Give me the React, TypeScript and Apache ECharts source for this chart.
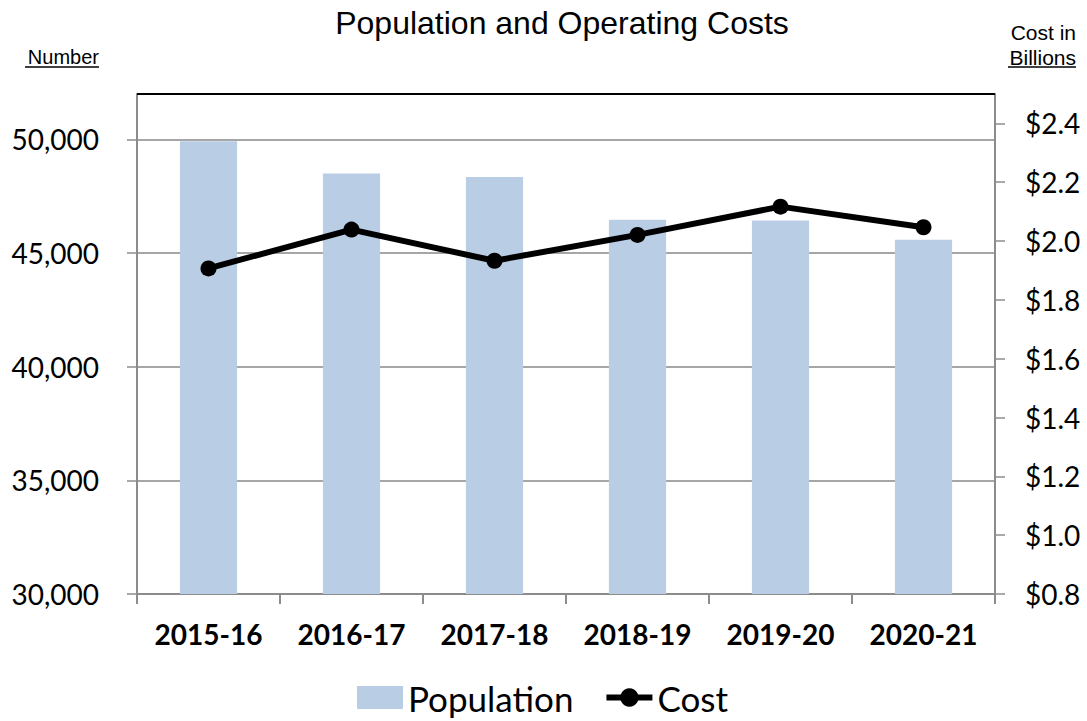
import React, { useEffect, useRef } from "react";
import * as echarts from "echarts";

const categories = ["2015-16", "2016-17", "2017-18", "2018-19", "2019-20", "2020-21"];
const population = [49925, 48500, 48350, 46470, 46430, 45590];
const cost = [1.907, 2.039, 1.933, 2.021, 2.117, 2.047];

const LABEL_FONT = "Lato, 'Open Sans', sans-serif";
const TITLE_FONT = "'Liberation Sans', Arial, sans-serif";

export default function App() {
  const ref = useRef<HTMLDivElement>(null);
  useEffect(() => {
    if (!ref.current) return;
    const chart = echarts.init(ref.current, undefined, { renderer: "svg" });
    chart.setOption({
      animation: false,
      backgroundColor: "#ffffff",
      title: {
        text: "Population and Operating Costs",
        left: 557,
        textAlign: "center",
        top: 2,
        textStyle: { fontFamily: TITLE_FONT, fontSize: 32, fontWeight: "normal", color: "#000" },
      },
      grid: { left: 137, right: 92, top: 94, bottom: 127, show: false },
      legend: {
        left: 357,
        top: 680,
        padding: 0,
        itemWidth: 46,
        itemHeight: 23,
        itemGap: 30,
        textStyle: { fontFamily: LABEL_FONT, fontSize: 35, lineHeight: 35, color: "#000" },
        data: [
          { name: "Population", icon: "rect" },
          { name: "Cost", lineStyle: { width: 6, color: "#000" } },
        ],
      },
      xAxis: {
        type: "category",
        data: categories,
        boundaryGap: true,
        axisLine: { lineStyle: { color: "#8c8c8c", width: 2 } },
        axisTick: { show: true, inside: false, length: 10, lineStyle: { color: "#8c8c8c", width: 2 } },
        axisLabel: {
          margin: 26,
          fontFamily: LABEL_FONT,
          fontSize: 28,
          fontWeight: "bold",
          color: "#000",
        },
      },
      yAxis: [
        {
          type: "value",
          min: 30000,
          max: 52000,
          interval: 5000,
          position: "left",
          axisLine: { show: true, lineStyle: { color: "#8c8c8c", width: 2 } },
          axisTick: { show: true, inside: false, length: 10, lineStyle: { color: "#8c8c8c", width: 1.5 } },
          splitLine: { show: true, lineStyle: { color: "#a6a6a6", width: 2 } },
          axisLabel: {
            margin: 38,
            fontFamily: LABEL_FONT,
            fontSize: 28,
            color: "#000",
            showMaxLabel: false,
            formatter: (v: number) => (v === 52000 ? "" : v.toLocaleString("en-US")),
          },
        },
        {
          type: "value",
          min: 0.8,
          max: 2.5,
          interval: 0.2,
          position: "right",
          axisLine: { show: true, lineStyle: { color: "#8c8c8c", width: 2 } },
          axisTick: { show: true, inside: false, length: 10, lineStyle: { color: "#8c8c8c", width: 1.5 } },
          splitLine: { show: false },
          axisLabel: {
            margin: 30,
            fontFamily: LABEL_FONT,
            fontSize: 28,
            color: "#000",
            showMaxLabel: false,
            formatter: (v: number) => (Math.abs(v - 2.5) < 1e-6 ? "" : "$" + v.toFixed(1)),
          },
        },
      ],
      series: [
        {
          name: "Population",
          type: "bar",
          yAxisIndex: 0,
          data: population,
          barWidth: "40%",
          itemStyle: { color: "#b9cde5" },
        },
        {
          name: "Cost",
          type: "line",
          yAxisIndex: 1,
          data: cost,
          symbol: "circle",
          symbolSize: 16,
          lineStyle: { color: "#000", width: 6 },
          itemStyle: { color: "#000" },
          z: 5,
        },
      ],
      graphic: [
        { type: "line", shape: { x1: 137, y1: 94, x2: 995, y2: 94 }, style: { stroke: "#000", lineWidth: 2 }, z: 10 },
        {
          type: "text",
          x: 99,
          y: 57,
          style: { text: "Number", font: `20px ${TITLE_FONT}`, fill: "#000", textAlign: "right", textVerticalAlign: "middle" },
        },
        { type: "line", shape: { x1: 25, y1: 67, x2: 99, y2: 67 }, style: { stroke: "#000", lineWidth: 1.5 } },
        {
          type: "text",
          x: 1076,
          y: 32,
          style: { text: "Cost in", font: `21px ${TITLE_FONT}`, fill: "#000", textAlign: "right", textVerticalAlign: "middle" },
        },
        {
          type: "text",
          x: 1076,
          y: 57,
          style: { text: "Billions", font: `21px ${TITLE_FONT}`, fill: "#000", textAlign: "right", textVerticalAlign: "middle" },
        },
        { type: "line", shape: { x1: 1008, y1: 67, x2: 1076, y2: 67 }, style: { stroke: "#000", lineWidth: 1.5 } },
      ],
    });
    return () => chart.dispose();
  }, []);
  return (
    <div
      ref={ref}
      style={{ position: "fixed", left: 0, top: 0, width: 1087, height: 721, background: "#fff" }}
    />
  );
}
